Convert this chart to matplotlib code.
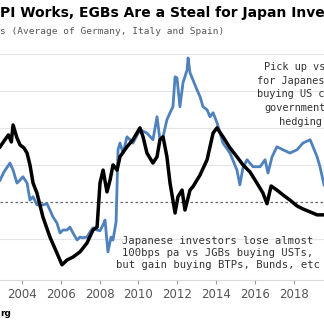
import matplotlib
matplotlib.use("Agg")
import matplotlib.pyplot as plt

# black line
black_years = [2002.87, 2003.12, 2003.30, 2003.45, 2003.54, 2003.74, 2003.90, 2004.10, 2004.26,
               2004.41, 2004.57, 2004.77, 2005.08, 2005.44, 2005.80, 2006.06, 2006.32, 2006.63,
               2006.99, 2007.35, 2007.66, 2007.87, 2008.02, 2008.18, 2008.38, 2008.54, 2008.69,
               2008.90, 2009.05, 2009.41, 2009.72, 2010.08, 2010.24, 2010.44, 2010.75, 2010.96,
               2011.11, 2011.27, 2011.47, 2011.63, 2011.89, 2012.04, 2012.25, 2012.40, 2012.66,
               2012.81, 2013.18, 2013.54, 2013.85, 2014.05, 2014.36, 2014.72, 2015.08, 2015.39,
               2015.75, 2016.11, 2016.42, 2016.63, 2016.84, 2017.14, 2017.45, 2017.81, 2018.18,
               2018.48, 2018.85, 2019.21, 2019.57]
black_vals = [1.49, 1.68, 1.81, 1.62, 2.08, 1.73, 1.54, 1.46, 1.32,
              1.00, 0.51, 0.24, -0.41, -0.95, -1.38, -1.70, -1.57, -1.49,
              -1.35, -1.11, -0.76, -0.68, 0.51, 0.86, 0.27, 0.59, 1.00,
              0.86, 1.22, 1.49, 1.68, 2.00, 1.76, 1.32, 1.05, 1.22,
              1.68, 1.76, 1.22, 0.51, -0.30, 0.14, 0.32, -0.22, 0.32,
              0.41, 0.73, 1.14, 1.86, 2.00, 1.76, 1.46, 1.22, 1.00,
              0.81, 0.51, 0.24, -0.05, 0.43, 0.32, 0.19, 0.05, -0.11,
              -0.19, -0.27, -0.35, -0.35]

# blue line
blue_years = [2002.87, 2003.07, 2003.38, 2003.54, 2003.74, 2003.90, 2004.05, 2004.26, 2004.41,
              2004.57, 2004.77, 2005.08, 2005.29, 2005.44, 2005.60, 2005.80, 2005.96, 2006.11,
              2006.32, 2006.47, 2006.63, 2006.84, 2006.99, 2007.14, 2007.35, 2007.51, 2007.66,
              2007.87, 2008.02, 2008.18, 2008.28, 2008.43, 2008.59, 2008.69, 2008.85, 2008.95,
              2009.05, 2009.21, 2009.41, 2009.57, 2009.72, 2010.08, 2010.44, 2010.75, 2010.96,
              2011.11, 2011.27, 2011.47, 2011.63, 2011.78, 2011.89, 2011.99, 2012.14, 2012.30,
              2012.51, 2012.56, 2012.66, 2012.81, 2013.02, 2013.18, 2013.33, 2013.54, 2013.69,
              2013.85, 2014.05, 2014.36, 2014.72, 2015.08, 2015.23, 2015.39, 2015.60, 2015.91,
              2016.27, 2016.53, 2016.68, 2016.89, 2017.14, 2017.45, 2017.81, 2018.18, 2018.48,
              2018.85, 2019.00, 2019.21, 2019.36, 2019.57]
blue_vals = [0.59, 0.81, 1.05, 0.86, 0.51, 0.59, 0.68, 0.51, 0.05,
             0.14, -0.08, -0.08, -0.05, -0.22, -0.41, -0.57, -0.84, -0.76,
             -0.76, -0.68, -0.84, -1.03, -0.95, -0.97, -0.95, -0.81, -0.70,
             -0.76, -0.78, -0.62, -0.49, -1.35, -0.95, -1.03, -0.54, 1.41,
             1.59, 1.32, 1.76, 1.68, 1.59, 1.95, 1.86, 1.68, 2.30,
             1.68, 1.76, 2.22, 2.41, 2.57, 3.38, 3.35, 2.57, 3.22,
             3.57, 3.89, 3.49, 3.30, 3.03, 2.84, 2.57, 2.49, 2.30,
             2.41, 2.14, 1.59, 1.32, 0.86, 0.46, 0.92, 1.14, 0.95,
             0.95, 1.14, 0.78, 1.22, 1.49, 1.41, 1.32, 1.41, 1.59,
             1.68, 1.49, 1.22, 0.95, 0.46]

tick_years = [2004, 2006, 2008, 2010, 2012, 2014, 2016, 2018]
grid_vals = [-1, 1, 2, 3, 4]

mono = "DejaVu Sans Mono"

fig = plt.figure(figsize=(3.24, 3.25), dpi=100)
ax = fig.add_axes([0, 45 / 325, 1, 235 / 325])

for g in grid_vals:
    ax.axhline(g, color="#e6e6e6", lw=0.8, zorder=0)
ax.axhline(0, color="#666666", lw=0.9, ls=(0, (2, 2)), zorder=1)

ax.plot(blue_years, blue_vals, color="#4f81bd", lw=2.0, zorder=2)
ax.plot(black_years, black_vals, color="black", lw=2.5, zorder=3)

ax.set_xlim(2002.866, 2019.567)
ax.set_ylim(-2.11, 4.24)
for s in ["top", "left", "right"]:
    ax.spines[s].set_visible(False)
ax.spines["bottom"].set_color("#d9d9d9")
ax.set_yticks([])
ax.set_xticks(tick_years)
ax.set_xticklabels([str(y) for y in tick_years])
ax.tick_params(axis="x", length=3, width=0.8, color="#999999", pad=3,
               labelsize=8.5, labelcolor="#555555")

# title and subtitle (cut off at the edges like the source)
fig.text(0, 1 - 13 / 325, "PI Works, EGBs Are a Steal for Japan Inve",
         fontsize=10, fontweight="bold", va="center", ha="left")
fig.text(0, 1 - 32 / 325, "s (Average of Germany, Italy and Spain)",
         fontsize=6.8, family=mono, color="#555555", va="center", ha="left")

# annotations
top_note = [("Pick up vs", 264, 67), ("for Japanes", 257, 81), ("buying US c", 257, 94),
            ("government", 264, 108), ("hedging", 279, 122)]
for txt, px, py in top_note:
    fig.text(px / 324, 1 - py / 325, txt, fontsize=7.4, family=mono,
             color="#333333", va="center", ha="left")

fig.text(218 / 324, 1 - 253 / 325,
         "Japanese investors lose almost\n100bps pa vs JGBs buying USTs,\nbut gain buying BTPs, Bunds, etc",
         fontsize=7.6, family=mono, color="#333333", va="center", ha="center",
         multialignment="center", linespacing=1.2)

fig.text(0, 1 - 313 / 325, "rg", fontsize=6.5, fontweight="bold", va="center", ha="left")

fig.savefig("out.png", dpi=100)
